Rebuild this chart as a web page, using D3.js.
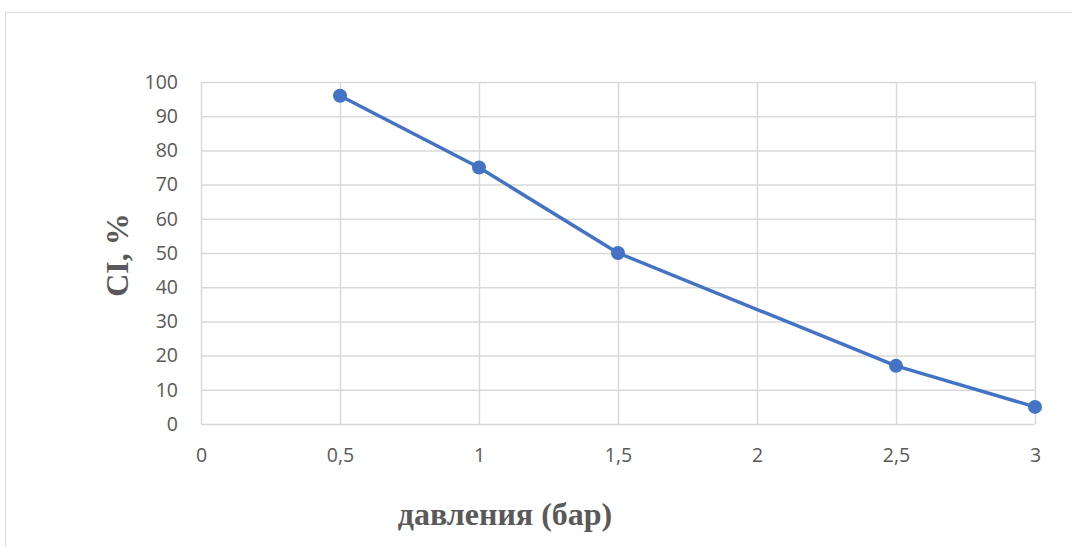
<!DOCTYPE html>
<html>
<head>
<meta charset="utf-8">
<script src="https://cdn.jsdelivr.net/npm/d3@7"></script>
<style>
  html, body { margin: 0; padding: 0; background: #fff; }
  svg { display: block; }
</style>
</head>
<body>
<svg id="chart" width="1072" height="547"></svg>
<script>
// Pressure (bar) vs CI (%)
const pressure = [0.5, 1, 1.5, 2.5, 3];
const ciValues = [96, 75, 50, 17, 5];
const xTicks = [0, 0.5, 1, 1.5, 2, 2.5, 3];
const yTicks = [0, 10, 20, 30, 40, 50, 60, 70, 80, 90, 100];

const svg = d3.select("#chart");
const W = 1072, H = 547;
const plot = { left: 201, right: 1035, top: 82, bottom: 424 };

// outer frame
svg.append("rect")
  .attr("x", 5.5).attr("y", 12.5)
  .attr("width", W + 10).attr("height", H + 10)
  .attr("fill", "none").attr("stroke", "#d9d9d9").attr("stroke-width", 1);

const x = d3.scaleLinear().domain([0, 3]).range([plot.left, plot.right]);
const y = d3.scaleLinear().domain([0, 100]).range([plot.bottom, plot.top]);

const fmt = d => String(d).replace(".", ",");

// horizontal gridlines
svg.append("g")
  .attr("transform", `translate(${plot.left},0)`)
  .call(d3.axisLeft(y).tickValues(yTicks).tickSize(-(plot.right - plot.left)).tickFormat(""))
  .call(g => g.select(".domain").remove())
  .call(g => g.selectAll(".tick line").attr("stroke", "#d9d9d9").attr("stroke-width", 1.5));

// vertical gridlines
svg.append("g")
  .attr("transform", `translate(0,${plot.bottom})`)
  .call(d3.axisBottom(x).tickValues(xTicks).tickSize(-(plot.bottom - plot.top)).tickFormat(""))
  .call(g => g.select(".domain").remove())
  .call(g => g.selectAll(".tick line").attr("stroke", "#d9d9d9").attr("stroke-width", 1.5));

// y tick labels
svg.append("g")
  .attr("transform", `translate(${plot.left - 23},0)`)
  .call(d3.axisLeft(y).tickValues(yTicks).tickSize(0).tickPadding(0))
  .call(g => g.select(".domain").remove())
  .call(g => g.selectAll("text")
    .attr("fill", "#595959")
    .attr("font-family", "'Open Sans', sans-serif")
    .attr("font-size", 19.5));

// x tick labels
svg.append("g")
  .attr("transform", "translate(0,462)")
  .call(d3.axisBottom(x).tickValues(xTicks).tickSize(0).tickPadding(0).tickFormat(fmt))
  .call(g => g.select(".domain").remove())
  .call(g => g.selectAll("text")
    .attr("y", 0).attr("dy", 0)
    .attr("fill", "#595959")
    .attr("font-family", "'Open Sans', sans-serif")
    .attr("font-size", 19.5));

// series line
const line = d3.line().x((d, i) => x(pressure[i])).y(d => y(d));
svg.append("path")
  .datum(ciValues)
  .attr("fill", "none")
  .attr("stroke", "#4472C4")
  .attr("stroke-width", 3.5)
  .attr("stroke-linejoin", "round")
  .attr("d", line);

svg.append("g").selectAll("circle")
  .data(ciValues)
  .join("circle")
  .attr("cx", (d, i) => x(pressure[i]))
  .attr("cy", d => y(d))
  .attr("r", 7)
  .attr("fill", "#4472C4");

// axis titles
svg.append("text")
  .attr("x", 505).attr("y", 525)
  .attr("text-anchor", "middle")
  .attr("font-family", "'Liberation Serif', 'Times New Roman', serif")
  .attr("font-weight", "bold")
  .attr("font-size", 32)
  .attr("fill", "#595959")
  .text("давления (бар)");

svg.append("text")
  .attr("transform", "translate(128,255) rotate(-90)")
  .attr("text-anchor", "middle")
  .attr("font-family", "'Liberation Serif', 'Times New Roman', serif")
  .attr("font-weight", "bold")
  .attr("font-size", 32)
  .attr("fill", "#595959")
  .text("CI, %");
</script>
</body>
</html>
